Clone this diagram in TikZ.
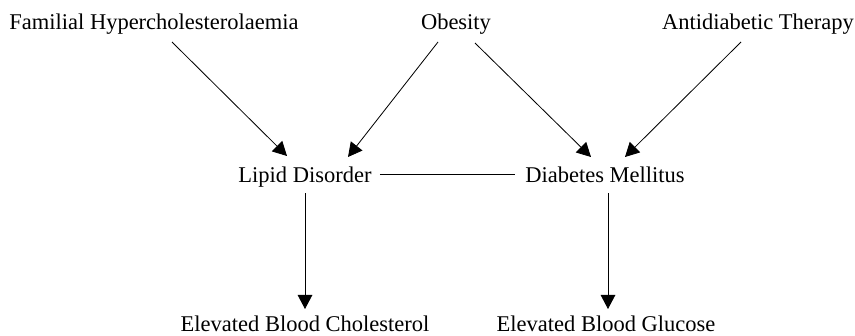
\documentclass[tikz,border=0pt]{standalone}
\usepackage{fontspec}
\setmainfont{Liberation Serif}
\usetikzlibrary{arrows.meta,calc}

\tikzset{
  factor/.style={inner sep=0pt, anchor=base, font=\fontsize{19.2}{21}\selectfont},
  arr/.style={-{Triangle[length=12pt,width=12.5pt]}, line width=0.7pt}
}

\begin{document}
\begin{tikzpicture}[x=0.03cm,y=-0.03cm]
\useasboundingbox (0,0) rectangle (855,336);
% top row
\node[factor] (fam) at (154,29) {Familial Hypercholesterolaemia};
\node[factor] (obes) at (456,29) {Obesity};
\node[factor] (anti) at (758,29) {Antidiabetic Therapy};
% middle row
\node[factor] (lipid) at (305,182) {Lipid Disorder};
\node[factor] (diab) at (605,182) {Diabetes Mellitus};
% bottom row
\node[factor] (chol) at (305,331) {Elevated Blood Cholesterol};
\node[factor] (gluc) at (606,331) {Elevated Blood Glucose};

\draw[arr] ($(fam.base)+(18,13)$) -- ($(lipid.base)+(-18,-26)$);
\draw[arr] ($(obes.base)+(-18,13)$) -- ($(lipid.base)+(43,-25)$);
\draw[arr] ($(obes.base)+(19,14)$) -- ($(diab.base)+(-14,-25)$);
\draw[arr] ($(anti.base)+(-17,13)$) -- ($(diab.base)+(20,-25)$);
\draw[line width=0.7pt] ($(lipid.base east)+(8,-8)$) -- ($(diab.base west)+(-10,-8)$);
\draw[arr] ($(lipid.base)+(0,11)$) -- ($(chol.base)+(0,-22)$);
\draw[arr] ($(diab.base)+(3,11)$) -- ($(gluc.base)+(2,-22)$);
%\draw (0,0) grid (10,10);
\end{tikzpicture}
\end{document}
